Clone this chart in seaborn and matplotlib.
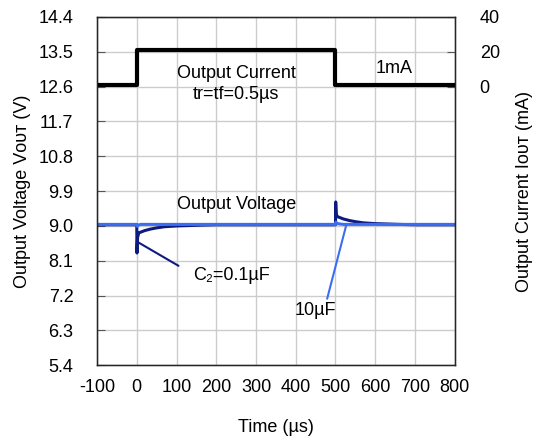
import matplotlib
matplotlib.use("Agg")
import matplotlib.pyplot as plt
import seaborn as sb

sb.set_style("white")
plt.rcParams['font.family'] = ['Liberation Sans', 'DejaVu Sans']
plt.rcParams['font.size'] = 13
plt.rcParams['axes.unicode_minus'] = False
plt.rcParams['text.color'] = 'black'
plt.rcParams['axes.labelcolor'] = 'black'
plt.rcParams['xtick.color'] = 'black'
plt.rcParams['ytick.color'] = 'black'

# output current step (mA)
cur_t = [-100, 0, 0, 500, 500, 800]
cur_ma = [1, 1, 21, 21, 1, 1]

# output voltage, C2 = 0.1uF
v1_t = [-100, 0, 0.5, 1, 2, 5, 10, 20, 35, 50, 70, 100, 130, 160, 200, 300, 499,
        500, 500.5, 501, 502, 505, 510, 520, 535, 550, 570, 600, 630, 660, 700, 800]
v1_v = [9.03, 9.03, 8.30, 8.45, 8.70, 8.82, 8.84, 8.88, 8.92, 8.95, 8.98, 9.00, 9.01, 9.02, 9.03, 9.03, 9.03,
        9.03, 9.62, 9.50, 9.30, 9.24, 9.22, 9.18, 9.14, 9.11, 9.08, 9.06, 9.05, 9.04, 9.03, 9.03]

# output voltage, 10uF
v2_t = [-100, 0, 1, 3, 10, 499, 500, 501, 504, 520, 800]
v2_v = [9.04, 9.04, 8.99, 9.02, 9.04, 9.04, 9.04, 9.10, 9.06, 9.04, 9.04]

yticks = [5.4, 6.3, 7.2, 8.1, 9.0, 9.9, 10.8, 11.7, 12.6, 13.5, 14.4]

navy = '#0d1a80'
blue = '#3a6ef2'

fig, ax = plt.subplots(figsize=(5.42, 4.46), dpi=100)
fig.subplots_adjust(left=0.179, right=0.839, top=0.962, bottom=0.181)

sb.lineplot(x=v1_t, y=v1_v, estimator=None, sort=False, color=navy, lw=2.2, ax=ax)
sb.lineplot(x=v2_t, y=v2_v, estimator=None, sort=False, color=blue, lw=2.2, ax=ax)

ax.set_xlim(-100, 800)
ax.set_ylim(5.4, 14.4)
ax.set_xticks(range(-100, 801, 100))
ax.set_yticks(yticks)
ax.set_yticklabels([f"{v:.1f}" for v in yticks])
ax.grid(True, color='#cccccc', lw=1)
ax.tick_params(axis='y', direction='in', length=6, color='#555555', right=True, pad=17)
ax.tick_params(axis='x', direction='in', length=6, color='#555555', pad=10)
for s in ax.spines.values():
    s.set_color('black')
    s.set_linewidth(1)
ax.set_xlabel('Time (µs)')
ax.xaxis.set_label_coords(0.5, -0.155)
ax.set_ylabel('Output Voltage Vᴏᴜᴛ (V)')
ax.yaxis.set_label_coords(-0.185, 0.5)

ax2 = ax.twinx()
sb.lineplot(x=cur_t, y=cur_ma, estimator=None, sort=False, color='black', lw=3, ax=ax2)
ax2.set_ylim(-160, 40)
ax2.set_yticks([0, 20, 40])
ax2.tick_params(direction='in', length=6, color='#555555', pad=18)
ax2.set_ylabel('Output Current Iᴏᴜᴛ (mA)')
ax2.yaxis.set_label_coords(1.17, 0.5)
ax2.grid(False)

# annotations
ax.text(250, 12.93, 'Output Current', ha='center', va='center')
ax.text(250, 12.40, 'tr=tf=0.5µs', ha='center', va='center')
ax.text(648, 13.06, '1mA', ha='center', va='center')
ax.text(250, 9.56, 'Output Voltage', ha='center', va='center')
ax.text(141, 7.72, 'C₂=0.1µF', ha='left', va='center')
ax.text(397, 6.81, '10µF', ha='left', va='center')
ax.plot([3, 105], [8.58, 7.97], color=navy, lw=1.5)
ax.plot([527, 479], [9.02, 7.12], color=blue, lw=1.5)

plt.savefig('out.png', dpi=100)
